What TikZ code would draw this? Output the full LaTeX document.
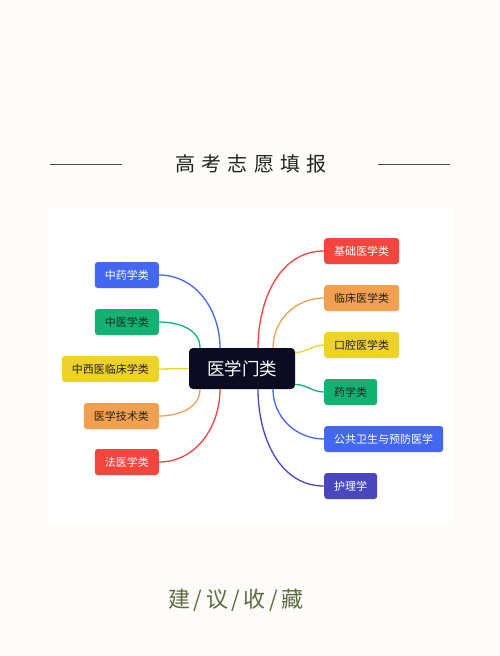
\documentclass[tikz,border=0pt]{standalone}
\usepackage{fontspec}
\setmainfont{Noto Sans CJK SC}
\usetikzlibrary{positioning}

\definecolor{paper}{HTML}{FDFCF8}
\definecolor{hubdark}{HTML}{0B0B22}
\definecolor{cblue}{HTML}{4467F2}
\definecolor{cgreen}{HTML}{13B272}
\definecolor{cyellow}{HTML}{EDD22B}
\definecolor{corange}{HTML}{F2A04F}
\definecolor{cred}{HTML}{F2453D}
\definecolor{cindigo}{HTML}{4A46BE}
\definecolor{inkdark}{HTML}{222222}
\definecolor{olive}{HTML}{5B6B45}

\begin{document}
\begin{tikzpicture}[
  x=1pt, y=-1pt,
  leaf/.style={rounded corners=3pt,minimum height=26pt,inner xsep=10pt,inner ysep=0pt,
    font=\fontsize{11}{11}\selectfont},
  lleaf/.style={leaf,anchor=east},
  rleaf/.style={leaf,anchor=west},
  hub/.style={fill=hubdark,text=white,rounded corners=4pt,minimum width=106pt,minimum height=41pt,
    font=\fontsize{17.5}{17.5}\selectfont},
  link/.style={line width=1.3pt},
  rule/.style={draw=inkdark!80,line width=0.9pt}]
% page and panel
\useasboundingbox (0,0) rectangle (500,656);
\fill[paper] (0,0) rectangle (500,656);
\fill[white] (48,209) rectangle (452,523);

% heading
\node[font=\fontsize{20}{20}\selectfont\addfontfeature{LetterSpace=32},text=inkdark] (title) at (251,164) {高考志愿填报};
\draw[rule] (50,164) -- (122,164);
\draw[rule] (378,164) -- (450,164);

% centre
\node[hub] (med) at (242,368.5) {医学门类};

% left branches
\node[lleaf,fill=cblue,text=white] (zyao) at (159,275) {中药学类};
\node[lleaf,fill=cgreen,text=inkdark] (zyi) at (159,322) {中医学类};
\node[lleaf,fill=cyellow,text=inkdark] (zxy) at (159,369) {中西医临床学类};
\node[lleaf,fill=corange,text=inkdark] (jishu) at (159,416) {医学技术类};
\node[lleaf,fill=cred,text=white] (fayi) at (159,462) {法医学类};

% right branches
\node[rleaf,fill=cred,text=white] (jichu) at (324,251) {基础医学类};
\node[rleaf,fill=corange,text=inkdark] (linc) at (324,298) {临床医学类};
\node[rleaf,fill=cyellow,text=inkdark] (kouq) at (324,345) {口腔医学类};
\node[rleaf,fill=cgreen,text=inkdark] (yaox) at (324,392) {药学类};
\node[rleaf,fill=cblue,text=white] (gongw) at (324,439) {公共卫生与预防医学};
\node[rleaf,fill=cindigo,text=white] (huli) at (324,486) {护理学};

\draw[link,cblue] (zyao.east) to[out=0,in=90] ([xshift=-22pt]med.north);
\draw[link,cgreen] (zyi.east) to[out=0,in=90] ([xshift=-42pt]med.north);
\draw[link,cyellow] (zxy.east) -- (med.west);
\draw[link,corange] (jishu.east) to[out=0,in=-90] ([xshift=-42pt]med.south);
\draw[link,cred] (fayi.east) to[out=0,in=-90] ([xshift=-22pt]med.south);

\draw[link,cred] (jichu.west) to[out=180,in=90] ([xshift=16pt]med.north);
\draw[link,corange] (linc.west) to[out=180,in=90] ([xshift=31pt]med.north);
\draw[link,cyellow] (kouq.west) to[out=180,in=0] ([yshift=16pt]med.east);
\draw[link,cgreen] (yaox.west) to[out=180,in=0] ([yshift=-16pt]med.east);
\draw[link,cblue] (gongw.west) to[out=180,in=-90] ([xshift=31pt]med.south);
\draw[link,cindigo] (huli.west) to[out=180,in=-90] ([xshift=16pt]med.south);

% footer
\node[font=\fontsize{22}{22}\selectfont,text=olive] (keep) at (236,600) {建\,/\,议\,/\,收\,/\,藏};
\end{tikzpicture}
\end{document}
